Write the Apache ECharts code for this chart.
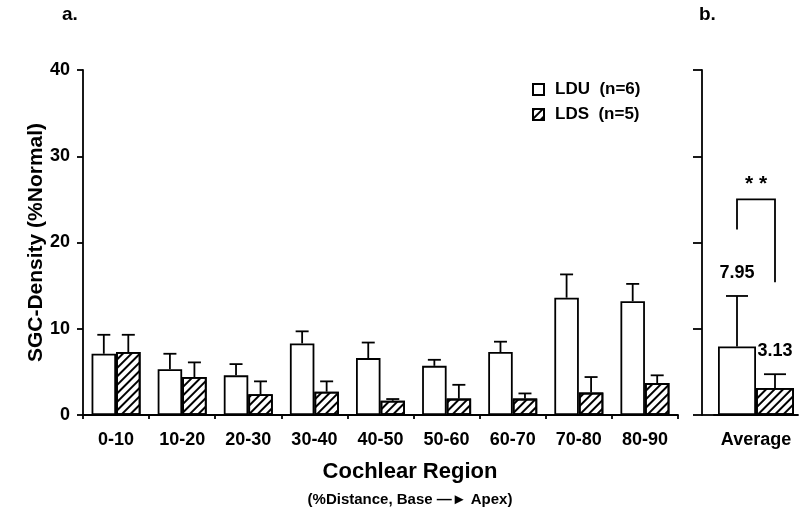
<!DOCTYPE html>
<html>
<head>
<meta charset="utf-8">
<script src="https://cdn.jsdelivr.net/npm/echarts@6/dist/echarts.min.js"></script>
<style>html,body{margin:0;padding:0;background:#fff;}#main{width:800px;height:513px;}</style>
</head>
<body>
<div id="main"></div>
<script>
// ---- data ----
const categories = ['0-10', '10-20', '20-30', '30-40', '40-50', '50-60', '60-70', '70-80', '80-90'];
const lduMean = [7.1, 5.3, 4.6, 8.3, 6.6, 5.7, 7.3, 13.6, 13.2];
const lduErr  = [2.2, 1.8, 1.3, 1.4, 1.8, 0.7, 1.2, 2.7, 2.0];
const ldsMean = [7.3, 4.4, 2.4, 2.7, 1.65, 1.9, 1.9, 2.6, 3.7];
const ldsErr  = [2.0, 1.7, 1.5, 1.2, 0.2, 1.6, 0.6, 1.8, 0.9];
const avgCategory = ['Average'];
const lduAvg = [7.95];
const lduAvgErr = [5.85];
const ldsAvg = [3.13];
const ldsAvgErr = [1.6];
const bracketValues = [21.5, 25, 15.4]; // left leg bottom, top, right leg bottom
const significance = '* *';
const seriesNames = ['LDU  (n=6)', 'LDS  (n=5)'];
const yMin = 0, yMax = 40, yInterval = 10;

// ---- styles ----
const FONT = 'Liberation Sans, Arial, Helvetica, sans-serif';
const BAR_A = 24.5, BAR_B = 38;
const CAP_A = 13, CAP_B = 22;
const LW = 1.8;
const hatch = {
  symbol: 'rect', symbolSize: 1, color: '#000',
  dashArrayX: [1, 0], dashArrayY: [2, 4], rotation: -Math.PI / 4
};
const lduStyle = { color: '#fff', borderColor: '#000', borderWidth: LW };
const ldsStyle = { color: '#fff', borderColor: '#000', borderWidth: LW, decal: hatch };

function errRender(sign, barW, capW, withLabel) {
  return function (params, api) {
    const x = api.value(0), m = api.value(1), e = api.value(2);
    const p0 = api.coord([x, m]);
    const p1 = api.coord([x, m + e]);
    const cx = p0[0] + sign * barW / 2;
    const children = [
      { type: 'line', shape: { x1: cx, y1: p0[1], x2: cx, y2: p1[1] }, style: { stroke: '#000', lineWidth: LW } },
      { type: 'line', shape: { x1: cx - capW / 2, y1: p1[1], x2: cx + capW / 2, y2: p1[1] }, style: { stroke: '#000', lineWidth: LW } }
    ];
    if (withLabel) {
      children.push({ type: 'text', style: { text: m.toFixed(2), x: cx, y: p1[1] - 23, align: 'center', verticalAlign: 'middle',
        fontSize: 18, fontWeight: 'bold', fontFamily: FONT, fill: '#000' } });
    }
    return { type: 'group', children: children };
  };
}

function bracketRender(params, api) {
  const x = api.value(0);
  const pl = api.coord([x, api.value(1)]);
  const pt = api.coord([x, api.value(2)]);
  const pr = api.coord([x, api.value(3)]);
  const lx = pl[0] - BAR_B / 2, rx = pl[0] + BAR_B / 2;
  return { type: 'group', children: [
    { type: 'polyline', shape: { points: [[lx, pl[1]], [lx, pt[1]], [rx, pt[1]], [rx, pr[1]]] },
      style: { stroke: '#000', lineWidth: LW, fill: null } },
    { type: 'text', style: { text: significance, x: (lx + rx) / 2, y: pt[1] - 15, align: 'center', verticalAlign: 'middle',
      fontSize: 21, fontWeight: 'bold', fontFamily: FONT, fill: '#000' } }
  ] };
}

const chart = echarts.init(document.getElementById('main'), null, { renderer: 'canvas' });
const axisLine = { show: true, lineStyle: { color: '#000', width: LW } };
const labelFont = { fontSize: 18, fontWeight: 'bold', fontFamily: FONT, color: '#000' };

chart.setOption({
  animation: false,
  backgroundColor: '#fff',
  grid: [
    { left: 83, right: 122, top: 70, bottom: 98 },
    { left: 714, right: 2, top: 70, bottom: 98 }
  ],
  xAxis: [
    { type: 'category', gridIndex: 0, data: categories, axisLine: axisLine,
      axisTick: { show: true, length: 4, lineStyle: { color: '#000', width: LW } },
      axisLabel: Object.assign({ margin: 16, interval: 0 }, labelFont) },
    { type: 'category', gridIndex: 1, data: avgCategory, axisLine: axisLine,
      axisTick: { show: false },
      axisLabel: Object.assign({ margin: 16 }, labelFont) }
  ],
  yAxis: [
    { type: 'value', gridIndex: 0, min: yMin, max: yMax, interval: yInterval, axisLine: axisLine,
      axisTick: { show: true, length: 6, lineStyle: { color: '#000', width: LW } },
      axisLabel: Object.assign({ margin: 13 }, labelFont), splitLine: { show: false },
      name: 'SGC-Density (%Normal)', nameLocation: 'middle', nameGap: 36, nameMoveOverlap: false,
      nameTextStyle: { fontSize: 21, fontWeight: 'bold', fontFamily: FONT, color: '#000' } },
    { type: 'value', gridIndex: 1, min: yMin, max: yMax, interval: yInterval, offset: 12, axisLine: axisLine,
      axisTick: { show: true, length: 9, lineStyle: { color: '#000', width: LW } },
      axisLabel: { show: false }, splitLine: { show: false } }
  ],
  legend: {
    orient: 'vertical', left: 527, top: 76, itemWidth: 11, itemHeight: 11, itemGap: 8,
    icon: 'rect',
    textStyle: { fontSize: 17, fontWeight: 'bold', fontFamily: FONT, color: '#000', padding: [0, 0, 0, 6] },
    data: seriesNames
  },
  graphic: [
    { type: 'text', left: 62, top: 5, style: { text: 'a.', fontSize: 19, fontWeight: 'bold', fontFamily: FONT, fill: '#000' } },
    { type: 'text', left: 699, top: 5, style: { text: 'b.', fontSize: 19, fontWeight: 'bold', fontFamily: FONT, fill: '#000' } },
    { type: 'text', x: 410, y: 472, style: { text: 'Cochlear Region', align: 'center', verticalAlign: 'middle', fontSize: 22, fontWeight: 'bold', fontFamily: FONT, fill: '#000' } },
    { type: 'text', x: 410, y: 500, style: { text: '(%Distance, Base \u2014\u25BA Apex)', align: 'center', verticalAlign: 'middle', fontSize: 15, fontWeight: 'bold', fontFamily: FONT, fill: '#000' } },
    { type: 'line', shape: { x1: 702, y1: 415, x2: 714, y2: 415 }, style: { stroke: '#000', lineWidth: LW } }
  ],
  series: [
    { name: seriesNames[0], type: 'bar', xAxisIndex: 0, yAxisIndex: 0, data: lduMean, barWidth: BAR_A, itemStyle: lduStyle },
    { name: seriesNames[1], type: 'bar', xAxisIndex: 0, yAxisIndex: 0, data: ldsMean, barWidth: BAR_A, barGap: '0%', itemStyle: ldsStyle },
    { name: seriesNames[0], type: 'bar', xAxisIndex: 1, yAxisIndex: 1, data: lduAvg, barWidth: BAR_B, itemStyle: lduStyle },
    { name: seriesNames[1], type: 'bar', xAxisIndex: 1, yAxisIndex: 1, data: ldsAvg, barWidth: BAR_B, barGap: '0%', itemStyle: ldsStyle },
    { type: 'custom', xAxisIndex: 0, yAxisIndex: 0, z: 5, renderItem: errRender(-1, BAR_A, CAP_A, false),
      data: categories.map((c, i) => [i, lduMean[i], lduErr[i]]) },
    { type: 'custom', xAxisIndex: 0, yAxisIndex: 0, z: 5, renderItem: errRender(1, BAR_A, CAP_A, false),
      data: categories.map((c, i) => [i, ldsMean[i], ldsErr[i]]) },
    { type: 'custom', xAxisIndex: 1, yAxisIndex: 1, z: 5, renderItem: errRender(-1, BAR_B, CAP_B, true),
      data: avgCategory.map((c, i) => [i, lduAvg[i], lduAvgErr[i]]) },
    { type: 'custom', xAxisIndex: 1, yAxisIndex: 1, z: 5, renderItem: errRender(1, BAR_B, CAP_B, true),
      data: avgCategory.map((c, i) => [i, ldsAvg[i], ldsAvgErr[i]]) },
    { type: 'custom', xAxisIndex: 1, yAxisIndex: 1, z: 5, renderItem: bracketRender,
      data: avgCategory.map((c, i) => [i, bracketValues[0], bracketValues[1], bracketValues[2]]) }
  ]
});
</script>
</body>
</html>
